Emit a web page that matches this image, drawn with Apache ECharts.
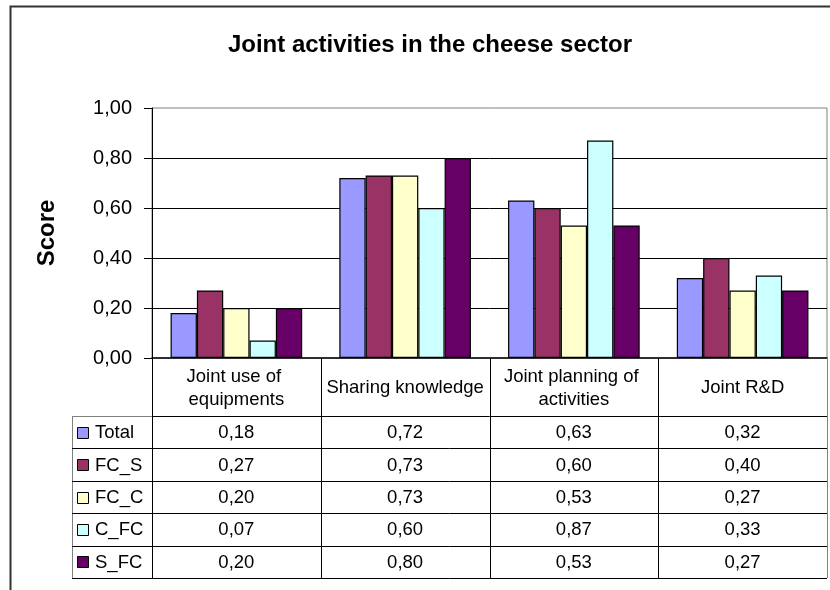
<!DOCTYPE html>
<html>
<head>
<meta charset="utf-8">
<script src="https://cdn.jsdelivr.net/npm/echarts@6/dist/echarts.min.js"></script>
<style>
  html, body { margin: 0; padding: 0; background: #fff; }
  #chart { width: 830px; height: 590px; }
</style>
</head>
<body>
<div id="chart"></div>
<script>
// Activity categories (x axis) and the five respondent groups
const categories = ['Joint use of equipments', 'Sharing knowledge', 'Joint planning of activities', 'Joint R&D'];
const seriesNames = ['Total', 'FC_S', 'FC_C', 'C_FC', 'S_FC'];

// Scores per group, one value per category
const total = [0.18, 0.72, 0.63, 0.32];
const fcS   = [0.27, 0.73, 0.60, 0.40];
const fcC   = [0.20, 0.73, 0.53, 0.27];
const cFc   = [0.07, 0.60, 0.87, 0.33];
const sFc   = [0.20, 0.80, 0.53, 0.27];

// Value axis range
const yMin = 0, yMax = 1, yStep = 0.2;

const seriesValues = [total, fcS, fcC, cFc, sFc];
const seriesColors = ['#9999FF', '#993366', '#FFFFCC', '#CCFFFF', '#660066'];

const FONT = '"Liberation Sans", Arial, sans-serif';
const fmt = v => v.toFixed(2).replace('.', ',');

// Plot area and data table geometry
const G = { left: 152, top: 108, width: 675, height: 250 };
const headerBottom = 416;
const rowH = 32.4;
const legendLeft = 72;

const chart = echarts.init(document.getElementById('chart'), null, { renderer: 'canvas' });

chart.setOption({
  animation: false,
  backgroundColor: '#fff',
  textStyle: { fontFamily: FONT },
  title: {
    text: 'Joint activities in the cheese sector',
    left: 425,
    top: 28,
    textAlign: 'center',
    textStyle: { fontFamily: FONT, fontSize: 24, fontWeight: 'bold', color: '#000' }
  },
  grid: {
    left: G.left, top: G.top, width: G.width, height: G.height,
    show: true, borderColor: '#808080', borderWidth: 1
  },
  xAxis: {
    type: 'category',
    data: categories,
    axisLine: { lineStyle: { color: '#000', width: 1.5 } },
    axisTick: { show: false },
    axisLabel: {
      interval: 0,
      margin: 30,
      verticalAlign: 'middle',
      width: 166,
      overflow: 'break',
      lineHeight: 23,
      fontSize: 18.5,
      color: '#000',
      fontFamily: FONT
    }
  },
  yAxis: {
    type: 'value',
    min: yMin, max: yMax, interval: yStep,
    name: 'Score',
    nameLocation: 'middle',
    nameRotate: 90,
    nameGap: 93,
    nameTextStyle: { fontFamily: FONT, fontSize: 24, fontWeight: 'bold', color: '#000' },
    axisLine: { show: true, lineStyle: { color: '#000', width: 1 } },
    axisTick: { show: true, length: 8, lineStyle: { color: '#000' } },
    axisLabel: { formatter: fmt, fontSize: 20, color: '#000', margin: 20, fontFamily: FONT },
    splitLine: { show: true, showMinLine: false, showMaxLine: false, lineStyle: { color: '#000', width: 1 } }
  },
  series: seriesNames.map((name, i) => ({
    name,
    type: 'bar',
    data: seriesValues[i],
    barGap: '0%',
    barCategoryGap: '22%',
    itemStyle: { color: seriesColors[i], borderColor: '#000', borderWidth: 1.2 }
  }))
});

// Data table below the plot: grid lines, legend keys, names and values
const right = G.left + G.width;
const bottom = G.top + G.height;
const tableBottom = headerBottom + rowH * seriesNames.length;
const catW = G.width / categories.length;
const graphics = [];

// outer chart frame
graphics.push({ type: 'rect', shape: { x: 10.5, y: 6.5, width: 900, height: 700 },
  style: { fill: null, stroke: '#333', lineWidth: 2 }, silent: true });

const line = (x1, y1, x2, y2, color) => graphics.push({
  type: 'line', shape: { x1, y1, x2, y2 },
  style: { stroke: color || '#000', lineWidth: 1 }, silent: true, z: 10
});

// column separators (through header and body)
for (let c = 0; c <= categories.length; c++) {
  const x = Math.round(G.left + c * catW) + 0.5;
  line(x, bottom, x, tableBottom, c === categories.length ? '#808080' : '#000');
}
// legend column left edge and top edge
line(legendLeft + 0.5, headerBottom, legendLeft + 0.5, tableBottom, '#808080');
line(legendLeft, headerBottom + 0.5, G.left, headerBottom + 0.5, '#808080');
// row separators
for (let r = 0; r <= seriesNames.length; r++) {
  const y = Math.round(headerBottom + r * rowH) + 0.5;
  line(r === 0 ? G.left : legendLeft, y, right, y, '#000');
}

seriesNames.forEach((name, r) => {
  const cy = headerBottom + (r + 0.5) * rowH;
  graphics.push({ type: 'rect', shape: { x: 77.5, y: Math.round(cy - 5.5) + 0.5, width: 11, height: 11 },
    style: { fill: seriesColors[r], stroke: '#000', lineWidth: 1 }, silent: true, z: 11 });
  graphics.push({ type: 'text', x: 95, y: cy + 1,
    style: { text: name, font: '18.5px ' + FONT, fill: '#000', textVerticalAlign: 'middle', textAlign: 'left' },
    silent: true, z: 11 });
  seriesValues[r].forEach((v, c) => {
    const cx = chart.convertToPixel({ xAxisIndex: 0 }, categories[c]);
    graphics.push({ type: 'text', x: cx, y: cy + 1,
      style: { text: fmt(v), font: '18.5px ' + FONT, fill: '#000', textVerticalAlign: 'middle', textAlign: 'center' },
      silent: true, z: 11 });
  });
});

chart.setOption({ graphic: graphics });
</script>
</body>
</html>
